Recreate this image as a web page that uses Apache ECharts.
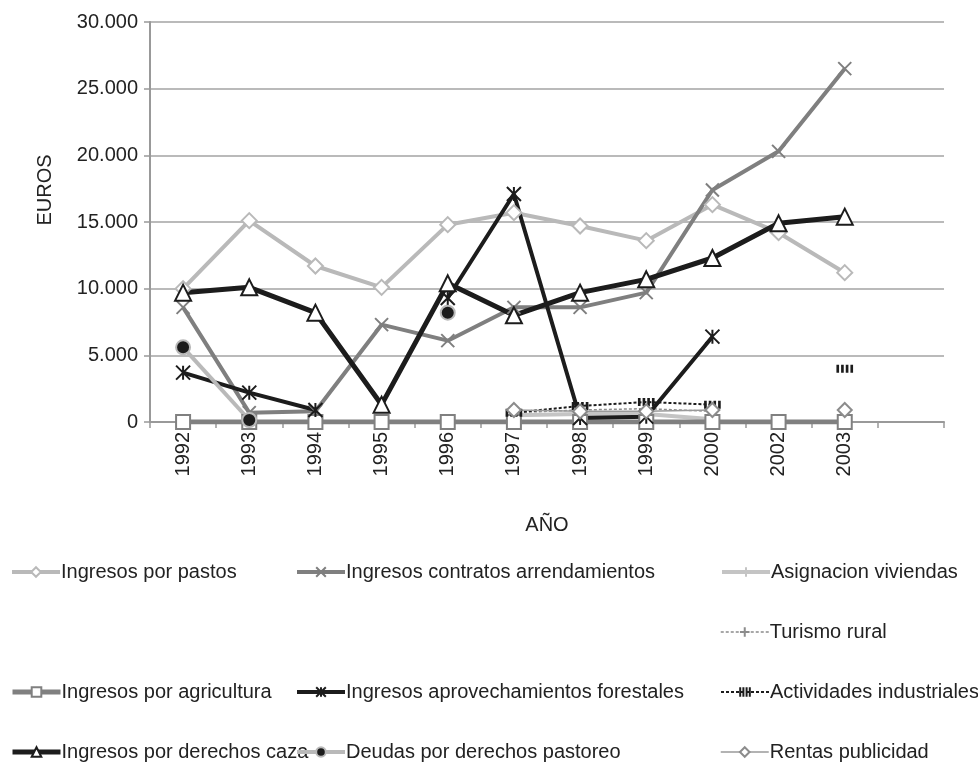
<!DOCTYPE html>
<html>
<head>
<meta charset="utf-8">
<script src="https://cdn.jsdelivr.net/npm/echarts@6/dist/echarts.min.js"></script>
<style>
  html, body { margin: 0; padding: 0; background: #fff; }
  #chart { width: 978px; height: 770px; }
</style>
</head>
<body>
<div id="chart"></div>
<script>
// categorias (la ultima vacia, como en el original)
var years = ['1992', '1993', '1994', '1995', '1996', '1997', '1998', '1999', '2000', '2002', '2003', ''];

var pastos = [10000, 15100, 11700, 10100, 14800, 15700, 14700, 13600, 16300, 14200, 11200];
var arrendamientos = [8600, 700, 800, 7300, 6100, 8600, 8600, 9700, 17400, 20300, 26500];
var viviendas = [null, null, null, null, null, 500, 600, 600, 200, null, null];
var turismo = [null, null, null, null, null, 700, 900, 1000, 800, null, null];
var agricultura = [0, 0, 0, 0, 0, 0, 0, 0, 0, 0, 0];
var forestales = [3700, 2200, 900, null, 9300, 17100, 300, 400, 6400, null, null];
var industriales = [null, null, null, null, null, 700, 1200, 1500, 1300, null, 4000];
var caza = [9700, 10100, 8200, 1300, 10400, 8000, 9700, 10700, 12300, 14900, 15400];
var deudas = [5600, 150, null, null, 8200, null, null, null, null, null, null];
var publicidad = [null, null, null, null, null, 900, 800, 800, 900, null, 900];

var FONT = 'Liberation Sans';

// simbolos dibujados a trazo
var X_MARK = 'path://M0,0L10,10M10,0L0,10';
var ASTERISK = 'path://M0,0L10,10M10,0L0,10M5,0L5,10';
var PLUS = 'path://M5,0L5,10M0,5L10,5';
var BARS = 'path://M0,0L0,10M3,0L3,10M6,0L6,10M9,0L9,10';

function serie(name, data, color, width, dash, symbol, size, fill, border, bw) {
    return {
        name: name,
        type: 'line',
        data: data,
        symbol: symbol,
        symbolSize: size,
        showAllSymbol: true,
        connectNulls: false,
        lineStyle: {color: color, width: width, type: dash},
        itemStyle: {color: fill, borderColor: border, borderWidth: bw},
        emphasis: {disabled: true}
    };
}

var series = [
    serie('Ingresos por pastos', pastos, '#b9b9b9', 4, 'solid', 'diamond', 15, '#fff', '#b9b9b9', 2),
    serie('Ingresos contratos arrendamientos', arrendamientos, '#7f7f7f', 4, 'solid', X_MARK, 13, 'none', '#7f7f7f', 2),
    serie('Asignacion viviendas', viviendas, '#c4c4c4', 4, 'solid', PLUS, 12, 'none', '#c4c4c4', 2),
    serie('Turismo rural', turismo, '#8c8c8c', 1.5, [3, 2], PLUS, 8, 'none', '#8c8c8c', 1.5),
    serie('Ingresos por agricultura', agricultura, '#808080', 5, 'solid', 'rect', 14, '#fff', '#808080', 2),
    serie('Ingresos aprovechamientos forestales', forestales, '#1c1c1c', 4, 'solid', ASTERISK, 14, 'none', '#1c1c1c', 2),
    serie('Actividades industriales', industriales, '#1c1c1c', 2, [3, 2], BARS, [14, 8], 'none', '#1c1c1c', 2),
    serie('Ingresos por derechos caza', caza, '#1c1c1c', 5, 'solid', 'triangle', 16, '#fff', '#1c1c1c', 2),
    serie('Deudas por derechos pastoreo', deudas, '#b9b9b9', 4, 'solid', 'circle', 14, '#1c1c1c', '#b9b9b9', 2),
    serie('Rentas publicidad', publicidad, '#9a9a9a', 1.5, 'solid', 'diamond', 14, '#fff', '#8c8c8c', 2)
];

// posiciones de la leyenda: [nombre, izquierda, centro vertical]
var legendPos = [
    ['Ingresos por pastos', 10, 573],
    ['Ingresos contratos arrendamientos', 295, 573],
    ['Asignacion viviendas', 720, 573],
    ['Turismo rural', 720, 633],
    ['Ingresos por agricultura', 10, 693],
    ['Ingresos aprovechamientos forestales', 295, 693],
    ['Actividades industriales', 720, 693],
    ['Ingresos por derechos caza', 10, 753],
    ['Deudas por derechos pastoreo', 295, 753],
    ['Rentas publicidad', 720, 753]
];

var legends = legendPos.map(function (p) {
    var s = series.filter(function (x) { return x.name === p[0]; })[0];
    return {
        data: [p[0]],
        left: p[1],
        top: p[2] - 11,
        padding: 0,
        itemWidth: 48,
        itemHeight: 12,
        itemGap: 0,
        selectedMode: false,
        lineStyle: {width: s.lineStyle.width},
        textStyle: {fontFamily: FONT, fontSize: 20, color: '#222', padding: [0, 0, 0, -4]}
    };
});

var chart = echarts.init(document.getElementById('chart'));

var option = {
    animation: false,
    backgroundColor: '#fff',
    textStyle: {fontFamily: FONT},
    grid: {left: 150, top: 22, right: 34, bottom: 348, containLabel: false},
    legend: legends,
    xAxis: {
        type: 'category',
        data: years,
        boundaryGap: true,
        name: 'AÑO',
        nameLocation: 'middle',
        nameGap: 93,
        nameTextStyle: {fontFamily: FONT, fontSize: 20, color: '#222'},
        axisLine: {lineStyle: {color: '#999', width: 2}},
        axisTick: {show: true, length: 6, lineStyle: {color: '#999', width: 1.5}},
        axisLabel: {rotate: 90, fontFamily: FONT, fontSize: 20, color: '#222', margin: 10},
        splitLine: {show: false}
    },
    yAxis: {
        type: 'value',
        min: 0,
        max: 30000,
        interval: 5000,
        axisLine: {show: true, lineStyle: {color: '#999', width: 2}},
        axisTick: {show: true, length: 6, lineStyle: {color: '#999', width: 1.5}},
        axisLabel: {
            fontFamily: FONT, fontSize: 20, color: '#222', margin: 12,
            formatter: function (v) {
                return String(v).replace(/\B(?=(\d{3})+(?!\d))/g, '.');
            }
        },
        splitLine: {show: true, lineStyle: {color: '#a3a3a3', width: 1.5}}
    },
    graphic: [{
        type: 'text',
        x: 45,
        y: 190,
        rotation: Math.PI / 2,
        style: {text: 'EUROS', fontFamily: FONT, fontSize: 20, fill: '#222', align: 'center', verticalAlign: 'middle'}
    }],
    series: series
};

chart.setOption(option);
</script>
</body>
</html>
